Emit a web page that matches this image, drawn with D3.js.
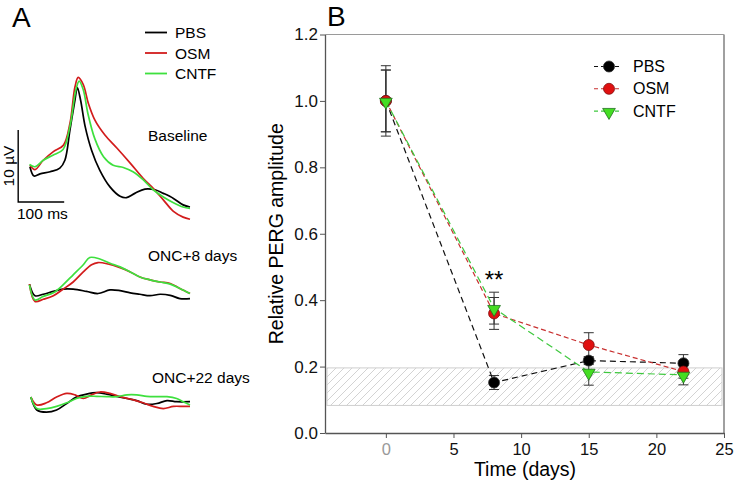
<!DOCTYPE html>
<html>
<head>
<meta charset="utf-8">
<script src="https://cdn.jsdelivr.net/npm/d3@7"></script>
<style>
  body { margin: 0; background: #fff; }
  text { font-family: "Liberation Sans", Arial, sans-serif; }
</style>
</head>
<body>
<div id="chart"></div>
<script>
const W = 734, H = 485

// ---- panel A : PERG traces (ms, µV) ----
const traceNames = ["PBS", "OSM", "CNTF"]
const traceColors = ["#000000", "#d21c1c", "#3ee03e"]
const conditions = ["Baseline", "ONC+8 days", "ONC+22 days"]

const baseT = {
  PBS:  [2, 11, 24, 46, 67, 78, 89, 100, 105, 112, 122, 136, 154, 176, 198, 212, 230, 252, 274, 292, 314, 335, 350],
  OSM:  [2, 13, 31, 53, 75, 89, 100, 107, 118, 129, 143, 165, 191, 220, 248, 270, 292, 314, 335, 350],
  CNTF: [1, 13, 31, 52, 74, 89, 102, 109, 118, 128, 143, 162, 183, 205, 226, 248, 270, 292, 314, 335, 350]
}
const baseV = {
  PBS:  [4.9, 3.6, 3.9, 4.2, 4.7, 5.8, 10.0, 14.2, 15.9, 14.2, 10.5, 7.2, 4.4, 2.1, 0.8, 0.6, 1.2, 1.8, 1.7, 1.2, 0.5, -0.4, -0.7],
  OSM:  [5.1, 4.5, 5.8, 7.0, 7.9, 10.9, 16.0, 17.3, 16.3, 13.7, 11.4, 9.3, 7.5, 5.4, 3.3, 1.9, 0.3, -1.3, -2.1, -2.4],
  CNTF: [5.2, 4.9, 5.8, 6.5, 7.3, 10.5, 15.6, 16.8, 15.6, 12.3, 8.8, 6.3, 5.1, 4.8, 4.2, 3.1, 1.7, 0.7, -0.1, -0.7, -0.9]
}
const onc8T = {
  PBS:  [1, 13, 31, 53, 74, 96, 125, 150, 176, 198, 220, 241, 263, 285, 307, 328, 350],
  OSM:  [1, 13, 31, 53, 74, 96, 118, 136, 150, 172, 198, 220, 241, 263, 285, 307, 328, 350],
  CNTF: [1, 13, 31, 53, 74, 96, 118, 132, 154, 176, 198, 220, 241, 263, 285, 307, 328, 350]
}
const onc8V = {
  PBS:  [2.2, 0.6, 0.8, 1.2, 1.5, 1.5, 1.2, 0.9, 1.4, 1.3, 1.0, 0.8, 0.6, 0.8, 0.65, 0.2, 0.2],
  OSM:  [2.2, -0.2, 0.1, 0.6, 1.5, 2.5, 3.9, 4.9, 5.2, 5.0, 4.5, 3.9, 3.2, 2.8, 2.5, 2.3, 1.6, 0.9],
  CNTF: [2.1, 0.0, 0.5, 1.0, 2.1, 3.5, 4.9, 5.9, 5.7, 5.1, 4.6, 3.9, 3.2, 2.8, 2.5, 2.2, 1.6, 0.9]
}
const onc22T = {
  PBS:  [4, 17, 38, 60, 82, 103, 125, 147, 169, 191, 213, 234, 256, 278, 300, 321, 350],
  OSM:  [4, 17, 38, 60, 82, 100, 118, 136, 154, 176, 198, 227, 248, 270, 292, 314, 335, 350],
  CNTF: [4, 17, 38, 60, 82, 103, 125, 147, 169, 191, 213, 234, 256, 278, 300, 321, 335, 350]
}
const onc22V = {
  PBS:  [1.8, 0.0, -0.3, 0.0, 0.9, 1.8, 2.2, 2.4, 2.2, 1.9, 1.6, 1.3, 0.8, 0.9, 1.3, 1.15, 1.15],
  OSM:  [1.8, 0.7, 1.0, 1.8, 2.3, 2.1, 1.6, 2.1, 2.5, 2.3, 1.85, 1.4, 1.0, 0.5, 0.2, 0.5, 0.5, 0.5],
  CNTF: [1.8, 0.2, 0.2, 0.5, 1.0, 1.6, 1.9, 1.9, 1.85, 1.85, 2.1, 2.1, 1.9, 1.85, 1.85, 1.6, 1.15, 0.7]
}

// ---- panel B : relative PERG amplitude ----
const days = [0, 8, 15, 22]
const groups = ["PBS", "OSM", "CNTF"]
const pbsMean  = [1.0, 0.152, 0.218, 0.21]
const pbsErr   = [0.106, 0.021, 0.012, 0.026]
const osmMean  = [1.0, 0.36, 0.265, 0.185]
const osmErr   = [0.093, 0.048, 0.037, 0.02]
const cntfMean = [1.0, 0.376, 0.184, 0.175]
const cntfErr  = [0.093, 0.048, 0.04, 0.03]
const normalBand = [0.083, 0.196]
const yTicks = [0, 0.2, 0.4, 0.6, 0.8, 1.0, 1.2]
const xTicks = [0, 5, 10, 15, 20, 25]

const svg = d3.select("#chart").append("svg")
    .attr("width", W).attr("height", H)

// ================= Panel A =================
svg.append("text").attr("x", 12).attr("y", 27)
    .attr("font-size", 28).text("A")

const xA = d3.scaleLinear().domain([0, 350]).range([29, 190])
const zeroY = [202, 300, 410]
const pxPerUV = 7.2
const traceSets = [[baseT, baseV], [onc8T, onc8V], [onc22T, onc22V]]

const lineA = d3.line().curve(d3.curveCatmullRom.alpha(0.5))

traceSets.forEach(([T, V], k) => {
  const yA = d3.scaleLinear().domain([0, 10]).range([zeroY[k], zeroY[k] - 10 * pxPerUV])
  traceNames.forEach((nm, i) => {
    const pts = T[nm].map((t, j) => [xA(t), yA(V[nm][j])])
    svg.append("path")
        .attr("d", lineA(pts))
        .attr("fill", "none")
        .attr("stroke", traceColors[i])
        .attr("stroke-width", 1.7)
        .attr("stroke-linejoin", "round")
  })
})

// labels of conditions
svg.append("text").attr("x", 148).attr("y", 141).attr("font-size", 15.5).text(conditions[0])
svg.append("text").attr("x", 148).attr("y", 261).attr("font-size", 15.5).text(conditions[1])
svg.append("text").attr("x", 152).attr("y", 383).attr("font-size", 15.5).text(conditions[2])

// legend A
traceNames.forEach((nm, i) => {
  const y = 32.5 + i * 20.5
  svg.append("line").attr("x1", 145).attr("x2", 167).attr("y1", y).attr("y2", y)
      .attr("stroke", traceColors[i]).attr("stroke-width", 1.8)
  svg.append("text").attr("x", 175).attr("y", y + 5.5).attr("font-size", 15.5).text(nm)
})

// scale bar
const yBar = d3.scaleLinear().domain([0, 10]).range([zeroY[0], zeroY[0] - 10 * pxPerUV])
svg.append("path")
    .attr("d", `M${xA(-23.5)},${yBar(10)}V${yBar(0)}H${xA(76.5)}`)
    .attr("fill", "none").attr("stroke", "#000").attr("stroke-width", 1.4)
svg.append("text")
    .attr("transform", `translate(14,${yBar(5)}) rotate(-90)`)
    .attr("text-anchor", "middle").attr("font-size", 15.5).text("10 \u00b5V")
svg.append("text").attr("x", 17).attr("y", 219).attr("font-size", 15.5).text("100 ms")

// ================= Panel B =================
const m = {left: 325, right: 724, top: 34.5, bottom: 433}
const x = d3.scaleLinear().domain([-4.5, 25]).range([m.left, m.right])
const y = d3.scaleLinear().domain([0, 1.2]).range([m.bottom, m.top])

svg.append("text").attr("x", 327).attr("y", 26)
    .attr("font-size", 28).text("B")

// hatch pattern
const defs = svg.append("defs")
const pat = defs.append("pattern").attr("id", "hatch")
    .attr("patternUnits", "userSpaceOnUse").attr("width", 8).attr("height", 8)
pat.append("path").attr("d", "M-2,10 L10,-2 M-2,2 L2,-2 M6,10 L10,6")
    .attr("stroke", "#c8c8c8").attr("stroke-width", 0.8)

svg.append("rect")
    .attr("x", m.left + 2).attr("width", m.right - m.left - 4)
    .attr("y", y(normalBand[1])).attr("height", y(normalBand[0]) - y(normalBand[1]))
    .attr("fill", "url(#hatch)").attr("stroke", "#cfcfcf").attr("stroke-width", 1)

// frame
svg.append("line").attr("x1", m.left).attr("x2", m.right).attr("y1", m.top).attr("y2", m.top)
    .attr("stroke", "#9a9a9a").attr("stroke-width", 1.2)
svg.append("line").attr("x1", m.right).attr("x2", m.right).attr("y1", m.top).attr("y2", m.bottom)
    .attr("stroke", "#a0a0a0").attr("stroke-width", 2)

// axes
const yAxis = svg.append("g").attr("transform", `translate(${m.left},0)`)
    .call(d3.axisLeft(y).tickValues(yTicks).tickFormat(d3.format(".1f")).tickSize(5).tickSizeOuter(0))
const xAxis = svg.append("g").attr("transform", `translate(0,${m.bottom})`)
    .call(d3.axisBottom(x).tickValues(xTicks).tickSize(5).tickSizeOuter(0))
;[yAxis, xAxis].forEach(g => {
  g.select(".domain").attr("stroke", "#555").attr("stroke-width", 1.3)
  g.selectAll(".tick line").attr("stroke", "#555")
  g.selectAll("text").attr("fill", "#111")
    .style("font-family", '"Liberation Sans", Arial, sans-serif')
})
yAxis.selectAll("text").attr("x", -7).attr("font-size", 17)
xAxis.selectAll("text").attr("y", 10.5).attr("font-size", 16.5)
xAxis.selectAll(".tick").filter(d => d === 0).select("text").attr("fill", "#999")

svg.append("text")
    .attr("transform", `translate(283,${(m.top + m.bottom) / 2}) rotate(-90)`)
    .attr("text-anchor", "middle").attr("font-size", 19.5).text("Relative PERG amplitude")
svg.append("text").attr("x", 525).attr("y", 476)
    .attr("text-anchor", "middle").attr("font-size", 19.5).text("Time (days)")

// series
const series = [
  {name: "PBS", mean: pbsMean, err: pbsErr, color: "#111", fill: "#000", stroke: "#333", dash: "6,4", shape: "circle"},
  {name: "OSM", mean: osmMean, err: osmErr, color: "#c83030", fill: "#e01010", stroke: "#801010", dash: "5,3", shape: "circle"},
  {name: "CNTF", mean: cntfMean, err: cntfErr, color: "#3ec83e", fill: "#44dd22", stroke: "#207020", dash: "7,4", shape: "tri"}
]

const lineB = d3.line().x((d, i) => x(days[i])).y(d => y(d))

// error bars
series.forEach(s => {
  const g = svg.append("g")
  days.forEach((dd, i) => {
    const cx = x(dd), hi = y(s.mean[i] + s.err[i]), lo = y(s.mean[i] - s.err[i])
    g.append("line").attr("x1", cx).attr("x2", cx).attr("y1", hi).attr("y2", lo)
        .attr("stroke", "#333").attr("stroke-width", 1)
    ;[hi, lo].forEach(yy => g.append("line").attr("x1", cx - 5).attr("x2", cx + 5)
        .attr("y1", yy).attr("y2", yy).attr("stroke", "#333").attr("stroke-width", 1))
  })
})

series.forEach(s => {
  svg.append("path").attr("d", lineB(s.mean))
      .attr("fill", "none").attr("stroke", s.color).attr("stroke-width", 1.2)
      .attr("stroke-dasharray", s.dash)
})

const tri = d3.symbol().type(d3.symbolTriangle).size(70)
function marker(g, s, cx, cy) {
  if (s.shape === "circle") {
    g.append("circle").attr("cx", cx).attr("cy", cy).attr("r", 5.5)
        .attr("fill", s.fill).attr("stroke", s.stroke).attr("stroke-width", 0.8)
  } else {
    g.append("path").attr("d", tri())
        .attr("transform", `translate(${cx},${cy + 1}) rotate(180)`)
        .attr("fill", s.fill).attr("stroke", s.stroke).attr("stroke-width", 0.8)
  }
}
series.forEach(s => {
  const g = svg.append("g")
  days.forEach((dd, i) => marker(g, s, x(dd), y(s.mean[i])))
})

// significance
svg.append("text").attr("x", x(8)).attr("y", 288).attr("text-anchor", "middle")
    .attr("font-size", 24).text("**")

// legend B
series.forEach((s, i) => {
  const ly = 66.5 + i * 22.3
  const g = svg.append("g")
  g.append("line").attr("x1", 594).attr("x2", 622).attr("y1", ly).attr("y2", ly)
      .attr("stroke", s.color).attr("stroke-width", 1.1).attr("stroke-dasharray", "4,3")
  marker(g, s, 609, ly)
  g.append("text").attr("x", 633).attr("y", ly + 5.5).attr("font-size", 16).text(s.name)
})
</script>
</body>
</html>
